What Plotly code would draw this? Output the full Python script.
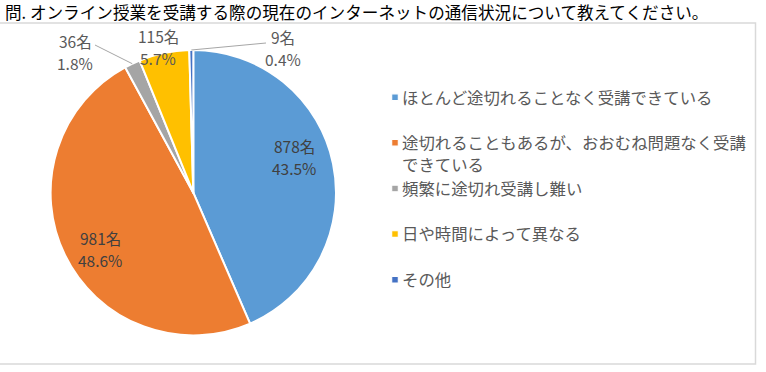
import math
import plotly.graph_objects as go

W, H = 766, 372

title_text = "問. オンライン授業を受講する際の現在のインターネットの通信状況について教えてください。"
categories = [
    "ほとんど途切れることなく受講できている",
    "途切れることもあるが、おおむね問題なく受講<br>できている",
    "頻繁に途切れ受講し難い",
    "日や時間によって異なる",
    "その他",
]
counts = [878, 981, 36, 115, 9]
percents = ["43.5%", "48.6%", "1.8%", "5.7%", "0.4%"]
colors = ["#5B9BD5", "#ED7D31", "#A5A5A5", "#FFC000", "#4472C4"]

FONT = "Noto Sans CJK JP"

def px(x, y):
    return x / W, 1 - y / H

# pie geometry (pixels)
cx, cy, r = 193.3, 192.7, 142.7

# legend labels: pad single-line labels with a blank line for spacing
legend_labels = [lab if "<br>" in lab else lab + "<br> " for lab in categories]

fig = go.Figure(go.Pie(
    labels=legend_labels,
    values=counts,
    sort=False,
    direction="clockwise",
    rotation=0,
    marker=dict(colors=colors, line=dict(color="white", width=2)),
    textinfo="none",
    hoverinfo="label+value+percent",
    domain=dict(x=[(cx - r) / W, (cx + r) / W], y=[1 - (cy + r) / H, 1 - (cy - r) / H]),
))

annotations = [dict(
    text=title_text, xref="paper", yref="paper", x=3 / W, y=1 - 12 / H,
    xanchor="left", yanchor="middle", showarrow=False,
    font=dict(family=FONT, size=16.6, color="#000000"),
)]

# data label positions (pixel centres of the two-line label blocks)
label_pos = {0: (294, 157), 1: (100, 249), 2: (75, 52), 3: (158, 47), 4: (283, 48)}
label_color = {0: "#404040", 1: "#404040", 2: "#595959", 3: "#595959", 4: "#595959"}
LINE_GAP = 22.5
LABEL_SIZE = 15.5

shapes = [dict(type="rect", xref="paper", yref="paper",
               x0=-0.01, x1=755.5 / W, y0=1 - 364 / H, y1=1 - 23 / H,
               line=dict(color="#D9D9D9", width=1.5), fillcolor="rgba(0,0,0,0)", layer="below")]

total = sum(counts)
cum = 0
for i, c in enumerate(counts):
    mid = (cum + c / 2) / total
    cum += c
    lx, ly = label_pos[i]
    for k, line in enumerate([f"{c}名", percents[i]]):
        ax, ay = px(lx, ly + (k - 0.5) * LINE_GAP)
        annotations.append(dict(
            text=line, xref="paper", yref="paper", x=ax, y=ay,
            xanchor="center", yanchor="middle", showarrow=False,
            font=dict(family=FONT, size=LABEL_SIZE, color=label_color[i]),
        ))
    # leader lines for the small outside labels
    if i in (2, 4):
        ang = 2 * math.pi * mid
        rx = cx + r * math.sin(ang)
        ry = cy - r * math.cos(ang)
        sx, sy = (95, 45) if i == 2 else (266, 43)
        x0, y0 = px(sx, sy)
        x1, y1 = px(rx, ry)
        shapes.append(dict(type="line", xref="paper", yref="paper",
                           x0=x0, y0=y0, x1=x1, y1=y1,
                           line=dict(color="#A6A6A6", width=1)))

fig.update_layout(
    width=W, height=H,
    margin=dict(l=0, r=0, t=0, b=0),
    paper_bgcolor="white",
    plot_bgcolor="white",
    showlegend=True,
    legend=dict(
        x=362 / W, y=1 - 80 / H, xanchor="left", yanchor="top",
        font=dict(family=FONT, size=16.4, color="#595959"),
        valign="top", traceorder="normal", itemclick=False,
        bgcolor="rgba(0,0,0,0)",
    ),
    annotations=annotations,
    shapes=shapes,
    font=dict(family=FONT),
)

post = """
document.body.style.margin = '0';
document.body.style.overflow = 'hidden';
var st = document.createElement('style');
st.textContent = '.legendpoints path{transform-box:fill-box;transform-origin:center;transform:translate(33px,0px) scale(0.55);}';
document.head.appendChild(st);
"""

fig.write_html("out.html", post_script=post, config={"displayModeBar": False})
